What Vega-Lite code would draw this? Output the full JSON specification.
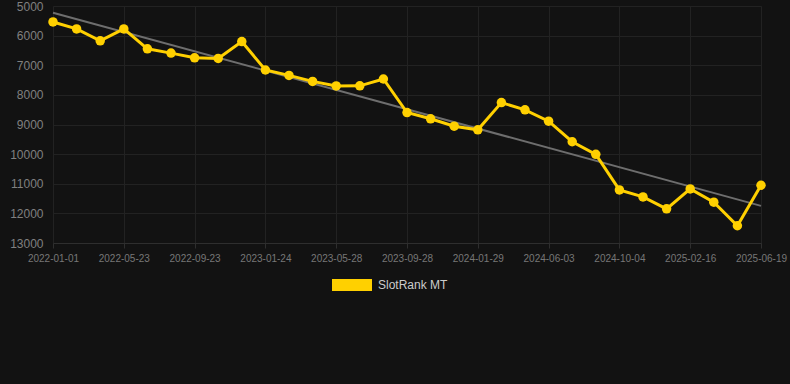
{
  "$schema": "https://vega.github.io/schema/vega-lite/v6.json",
  "autosize": {"type": "none"},
  "padding": {"left": 53, "top": 6, "right": 0, "bottom": 141},
  "width": 737,
  "height": 237,
  "background": "#121212",
  "config": {
    "view": {"stroke": null},
    "font": "Liberation Sans",
    "axisY": {
      "title": null,
      "format": "d",
      "labelOverlap": false,
      "domain": false,
      "ticks": false,
      "labelColor": "#808080",
      "labelFontSize": 12,
      "labelPadding": 10,
      "gridColor": "#222222",
      "tickCount": 9
    }
  },
  "data": {
    "values": [
      {"date": "2022-01-01", "rank": 5538, "series": "SlotRank MT", "trend": 5225},
      {"date": "2022-02-17", "rank": 5773, "series": "SlotRank MT"},
      {"date": "2022-04-05", "rank": 6176, "series": "SlotRank MT"},
      {"date": "2022-05-23", "rank": 5773, "series": "SlotRank MT"},
      {"date": "2022-07-03", "rank": 6445, "series": "SlotRank MT"},
      {"date": "2022-08-13", "rank": 6590, "series": "SlotRank MT"},
      {"date": "2022-09-23", "rank": 6748, "series": "SlotRank MT"},
      {"date": "2022-11-03", "rank": 6771, "series": "SlotRank MT"},
      {"date": "2022-12-14", "rank": 6200, "series": "SlotRank MT"},
      {"date": "2023-01-24", "rank": 7161, "series": "SlotRank MT"},
      {"date": "2023-03-05", "rank": 7343, "series": "SlotRank MT"},
      {"date": "2023-04-16", "rank": 7545, "series": "SlotRank MT"},
      {"date": "2023-05-28", "rank": 7699, "series": "SlotRank MT"},
      {"date": "2023-07-08", "rank": 7695, "series": "SlotRank MT"},
      {"date": "2023-08-18", "rank": 7464, "series": "SlotRank MT"},
      {"date": "2023-09-28", "rank": 8597, "series": "SlotRank MT"},
      {"date": "2023-11-08", "rank": 8808, "series": "SlotRank MT"},
      {"date": "2023-12-19", "rank": 9057, "series": "SlotRank MT"},
      {"date": "2024-01-29", "rank": 9178, "series": "SlotRank MT"},
      {"date": "2024-03-10", "rank": 8261, "series": "SlotRank MT"},
      {"date": "2024-04-22", "rank": 8506, "series": "SlotRank MT"},
      {"date": "2024-06-03", "rank": 8889, "series": "SlotRank MT"},
      {"date": "2024-07-14", "rank": 9582, "series": "SlotRank MT"},
      {"date": "2024-08-24", "rank": 10008, "series": "SlotRank MT"},
      {"date": "2024-10-04", "rank": 11208, "series": "SlotRank MT"},
      {"date": "2024-11-18", "rank": 11444, "series": "SlotRank MT"},
      {"date": "2025-01-02", "rank": 11847, "series": "SlotRank MT"},
      {"date": "2025-02-16", "rank": 11175, "series": "SlotRank MT"},
      {"date": "2025-03-29", "rank": 11622, "series": "SlotRank MT"},
      {"date": "2025-05-09", "rank": 12418, "series": "SlotRank MT"},
      {"date": "2025-06-19", "rank": 11050, "series": "SlotRank MT", "trend": 11746}
    ]
  },
  "encoding": {
    "x": {
      "field": "date",
      "type": "ordinal",
      "sort": "ascending",
      "scale": {"type": "point", "range": [0, 708], "padding": 0},
      "axis": {
        "title": null,
        "values": ["2022-01-01", "2022-05-23", "2022-09-23", "2023-01-24", "2023-05-28", "2023-09-28", "2024-01-29", "2024-06-03", "2024-10-04", "2025-02-16", "2025-06-19"],
        "labelAngle": 0,
        "labelColor": "#777777",
        "labelFontSize": 10,
        "labelPadding": 5,
        "labelOverlap": false,
        "grid": true,
        "gridColor": "#222222",
        "domainColor": "#2e2e2e",
        "tickColor": "#2e2e2e",
        "tickSize": 5
      }
    }
  },
  "layer": [
    {
      "transform": [{"filter": "datum.trend != null"}],
      "mark": {"type": "line", "color": "#6e6e6e", "strokeWidth": 2},
      "encoding": {
        "y": {
          "field": "trend",
          "type": "quantitative",
          "scale": {"domain": [5000, 13000], "reverse": true, "nice": false, "zero": false},
          "axis": {"values": [5000, 6000, 7000, 8000, 9000, 10000, 11000, 12000, 13000]}
        }
      }
    },
    {
      "mark": {"type": "line", "strokeWidth": 3},
      "encoding": {
        "y": {
          "field": "rank",
          "type": "quantitative",
          "axis": {"values": [5000, 6000, 7000, 8000, 9000, 10000, 11000, 12000, 13000]}
        },
        "color": {
          "field": "series",
          "type": "nominal",
          "scale": {"range": ["#FFD000"]},
          "legend": {
            "title": null,
            "orient": "none",
            "legendX": 279,
            "legendY": 259,
            "symbolType": "M-1,-0.3H1V0.3H-1Z",
            "symbolSize": 1600,
            "symbolFillColor": "#FFD000",
            "symbolStrokeWidth": 0,
            "labelColor": "#cccccc",
            "labelFontSize": 12,
            "labelOffset": 6
          }
        }
      }
    },
    {
      "mark": {"type": "point", "filled": true, "size": 90, "opacity": 1},
      "encoding": {
        "y": {
          "field": "rank",
          "type": "quantitative",
          "axis": {"values": [5000, 6000, 7000, 8000, 9000, 10000, 11000, 12000, 13000]}
        },
        "color": {"field": "series", "type": "nominal"}
      }
    }
  ]
}
